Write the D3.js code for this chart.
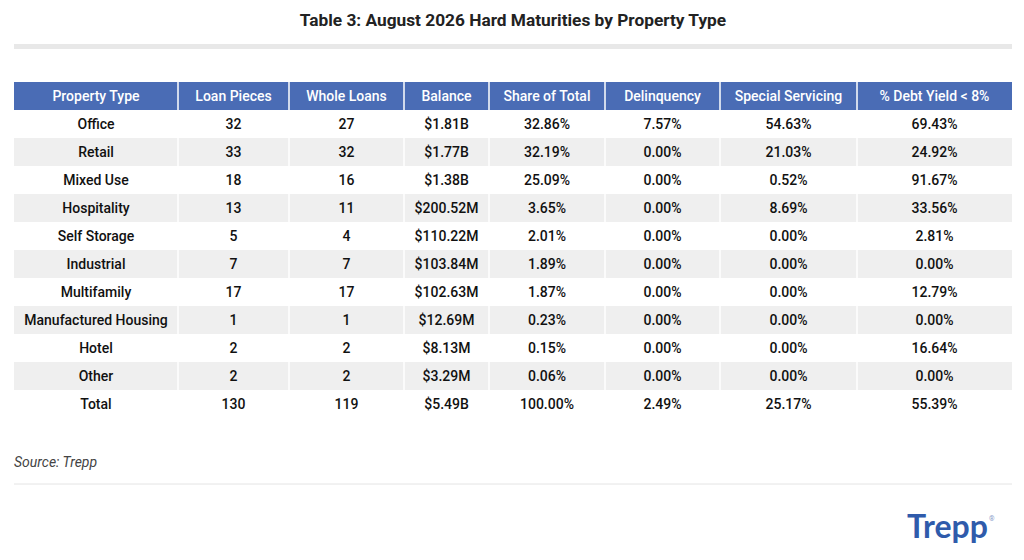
<!DOCTYPE html>
<html><head><meta charset="utf-8">
<script src="https://cdn.jsdelivr.net/npm/d3@7"></script>
<style>body{margin:0;background:#fff;font-family:Roboto,sans-serif}</style>
</head><body><svg id="c" width="1024" height="560"></svg>
<script>
const columns = ["Property Type","Loan Pieces","Whole Loans","Balance","Share of Total","Delinquency","Special Servicing","% Debt Yield < 8%"];
const propertyTypes = ["Office","Retail","Mixed Use","Hospitality","Self Storage","Industrial","Multifamily","Manufactured Housing","Hotel","Other","Total"];
const loanPieces = [32,33,18,13,5,7,17,1,2,2,130];
const wholeLoans = [27,32,16,11,4,7,17,1,2,2,119];
const balance = ["$1.81B","$1.77B","$1.38B","$200.52M","$110.22M","$103.84M","$102.63M","$12.69M","$8.13M","$3.29M","$5.49B"];
const share = ["32.86%","32.19%","25.09%","3.65%","2.01%","1.89%","1.87%","0.23%","0.15%","0.06%","100.00%"];
const delinquency = ["7.57%","0.00%","0.00%","0.00%","0.00%","0.00%","0.00%","0.00%","0.00%","0.00%","2.49%"];
const specialServicing = ["54.63%","21.03%","0.52%","8.69%","0.00%","0.00%","0.00%","0.00%","0.00%","0.00%","25.17%"];
const debtYield = ["69.43%","24.92%","91.67%","33.56%","2.81%","0.00%","12.79%","0.00%","16.64%","0.00%","55.39%"];

const rows = propertyTypes.map((p,i)=>[p,loanPieces[i],wholeLoans[i],balance[i],share[i],delinquency[i],specialServicing[i],debtYield[i]]);
const edges = [14,178,289,404,489,605,720,857,1012];
const svg = d3.select("#c");

svg.append("text").attr("x",513).attr("y",26).attr("text-anchor","middle")
  .attr("font-size",17.3).attr("font-weight",700).attr("fill","#222")
  .text("Table 3: August 2026 Hard Maturities by Property Type");
svg.append("rect").attr("x",14).attr("y",44).attr("width",998).attr("height",5).attr("fill","#e8e8e8");

const tableTop = 82, hh = 28, rh = 28;
const y = d3.scaleBand().domain(d3.range(rows.length)).range([tableTop+hh, tableTop+hh+rh*rows.length]);

// header
svg.append("rect").attr("x",14).attr("y",tableTop).attr("width",998).attr("height",hh).attr("fill","#4a6cb5");
svg.selectAll(".hd").data(columns).join("text")
  .attr("x",(d,i)=>(edges[i]+edges[i+1])/2).attr("y",tableTop+hh/2+5)
  .attr("text-anchor","middle").attr("font-size",14).attr("font-weight",500).attr("fill","#fff").text(d=>d);

const g = svg.selectAll(".row").data(rows).join("g").attr("transform",(d,i)=>`translate(0,${y(i)})`);
g.filter((d,i)=>i%2==1).append("rect").attr("x",14).attr("width",998).attr("height",rh).attr("fill","#efefef");
g.selectAll("text").data(d=>d).join("text")
  .attr("x",(d,i)=>(edges[i]+edges[i+1])/2).attr("y",rh/2+5)
  .attr("text-anchor","middle").attr("font-size",14).attr("font-weight",500).attr("fill","#111").text(d=>d);

// column separators
svg.selectAll(".sep").data(edges.slice(1,-1)).join("line")
  .attr("x1",d=>d).attr("x2",d=>d).attr("y1",tableTop).attr("y2",tableTop+hh+rh*rows.length)
  .attr("stroke","#fff").attr("stroke-width",1.5);

svg.append("text").attr("x",14).attr("y",467).attr("font-size",14).attr("font-style","italic")
  .attr("fill","#444").text("Source: Trepp");
svg.append("line").attr("x1",14).attr("x2",1012).attr("y1",484).attr("y2",484).attr("stroke","#e4e4e4");

svg.append("text").attr("x",907).attr("y",538).attr("font-size",32).attr("font-weight",700)
  .attr("fill","#2f5bab").attr("font-family","Lato, Roboto, sans-serif").text("Trepp");
svg.append("text").attr("x",989).attr("y",521).attr("font-size",7).attr("fill","#8a9cc8").text("®");
</script></body></html>
